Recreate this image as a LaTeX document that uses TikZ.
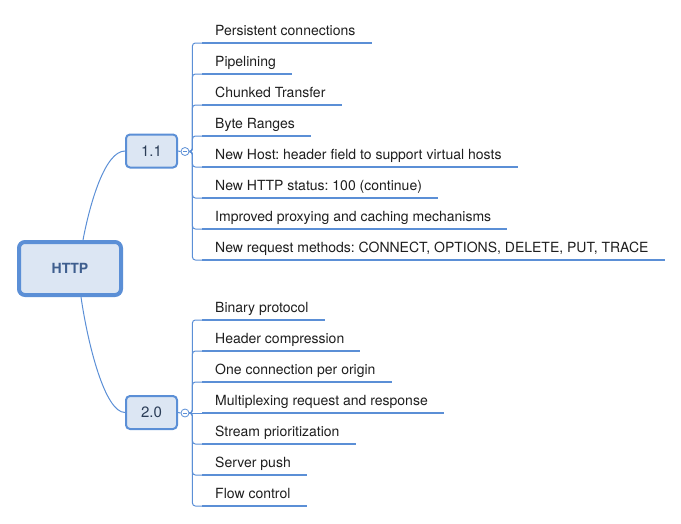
\documentclass[tikz,border=0pt]{standalone}
\usepackage{fontspec}
\setmainfont{TeX Gyre Heros}
\definecolor{mapblue}{HTML}{5B8FD6}
\definecolor{mapfill}{HTML}{DCE6F3}
\definecolor{maptext}{HTML}{2B3D57}
\definecolor{roottext}{HTML}{3E5E8E}
\definecolor{leaftext}{HTML}{1E1E1E}

\begin{document}
\frenchspacing
\begin{tikzpicture}[x=1pt, y=-1pt,
  root/.style={rectangle, draw=mapblue, line width=4pt, rounded corners=6pt, fill=mapfill, minimum width=102pt, minimum height=53pt, font=\bfseries\fontsize{14}{16}\selectfont, text=roottext},
  ver/.style={rectangle, draw=mapblue, line width=2pt, rounded corners=4pt, fill=mapfill, minimum width=51pt, minimum height=33pt, font=\fontsize{15}{17}\selectfont, text=maptext},
  toggle/.style={circle, draw=mapblue, line width=0.8pt, fill=white, minimum size=8pt, inner sep=0pt},
  leaf/.style={anchor=base west, inner sep=0pt, font=\fontsize{14}{16}\selectfont, text=leaftext},
  uline/.style={draw=mapblue, line width=2.8pt},
  branch/.style={draw=mapblue, line width=1pt, rounded corners=3pt}]

\useasboundingbox (0,0) rectangle (681,523);

\node[root] (http) at (70, 268.5) {HTTP};
\node[ver] (v1) at (151.5, 151) {1.1};
\node[ver] (v2) at (151.5, 412.5) {2.0};

\draw[branch] ([xshift=13pt]http.north) .. controls (90, 203) and (105, 151) .. (v1.west);
\draw[branch] ([xshift=11pt]http.south) .. controls (88, 345) and (105, 412.5) .. (v2.west);

\node[toggle] (t1) at (185, 151.5) {};
\draw[branch] (v1.east) -- (t1.west);
\draw[branch] ([xshift=-2pt]t1.center) -- ([xshift=2pt]t1.center);

\node[toggle] (t2) at (185, 413) {};
\draw[branch] (v2.east) -- (t2.west);
\draw[branch] ([xshift=-2pt]t2.center) -- ([xshift=2pt]t2.center);

% 1.1
\node[leaf] (a0) at (215, 35) {Persistent connections};
\draw[uline] ([shift={(-13pt,-8pt)}]a0.base west) coordinate (a0s) -- ([shift={(16pt,-8pt)}]a0.base east);
\draw[branch] (t1.east) -- ++(3, 0) |- (a0s);

\node[leaf] (a1) at (215, 66) {Pipelining};
\draw[uline] ([shift={(-13pt,-8pt)}]a1.base west) coordinate (a1s) -- ([shift={(16pt,-8pt)}]a1.base east);
\draw[branch] (t1.east) -- ++(3, 0) |- (a1s);

\node[leaf] (a2) at (215, 97) {Chunked Transfer};
\draw[uline] ([shift={(-13pt,-8pt)}]a2.base west) coordinate (a2s) -- ([shift={(16pt,-8pt)}]a2.base east);
\draw[branch] (t1.east) -- ++(3, 0) |- (a2s);

\node[leaf] (a3) at (215, 128) {Byte Ranges};
\draw[uline] ([shift={(-13pt,-8pt)}]a3.base west) coordinate (a3s) -- ([shift={(16pt,-8pt)}]a3.base east);
\draw[branch] (t1.east) -- ++(3, 0) |- (a3s);

\node[leaf] (a4) at (215, 159) {New Host: header field to support virtual hosts};
\draw[uline] ([shift={(-13pt,-8pt)}]a4.base west) coordinate (a4s) -- ([shift={(16pt,-8pt)}]a4.base east);
\draw[branch] (t1.east) -- ++(3, 0) |- (a4s);

\node[leaf] (a5) at (215, 190) {New HTTP status: 100 (continue)};
\draw[uline] ([shift={(-13pt,-8pt)}]a5.base west) coordinate (a5s) -- ([shift={(16pt,-8pt)}]a5.base east);
\draw[branch] (t1.east) -- ++(3, 0) |- (a5s);

\node[leaf] (a6) at (215, 221) {Improved proxying and caching mechanisms};
\draw[uline] ([shift={(-13pt,-8pt)}]a6.base west) coordinate (a6s) -- ([shift={(16pt,-8pt)}]a6.base east);
\draw[branch] (t1.east) -- ++(3, 0) |- (a6s);

\node[leaf] (a7) at (215, 252) {New request methods: CONNECT, OPTIONS, DELETE, PUT, TRACE};
\draw[uline] ([shift={(-13pt,-8pt)}]a7.base west) coordinate (a7s) -- ([shift={(16pt,-8pt)}]a7.base east);
\draw[branch] (t1.east) -- ++(3, 0) |- (a7s);

% 2.0
\node[leaf] (b0) at (215, 312) {Binary protocol};
\draw[uline] ([shift={(-13pt,-8pt)}]b0.base west) coordinate (b0s) -- ([shift={(16pt,-8pt)}]b0.base east);
\draw[branch] (t2.east) -- ++(3, 0) |- (b0s);

\node[leaf] (b1) at (215, 343) {Header compression};
\draw[uline] ([shift={(-13pt,-8pt)}]b1.base west) coordinate (b1s) -- ([shift={(16pt,-8pt)}]b1.base east);
\draw[branch] (t2.east) -- ++(3, 0) |- (b1s);

\node[leaf] (b2) at (215, 374) {One connection per origin};
\draw[uline] ([shift={(-13pt,-8pt)}]b2.base west) coordinate (b2s) -- ([shift={(16pt,-8pt)}]b2.base east);
\draw[branch] (t2.east) -- ++(3, 0) |- (b2s);

\node[leaf] (b3) at (215, 405) {Multiplexing request and response};
\draw[uline] ([shift={(-13pt,-8pt)}]b3.base west) coordinate (b3s) -- ([shift={(16pt,-8pt)}]b3.base east);
\draw[branch] (t2.east) -- (b3s);

\node[leaf] (b4) at (215, 436) {Stream prioritization};
\draw[uline] ([shift={(-13pt,-8pt)}]b4.base west) coordinate (b4s) -- ([shift={(16pt,-8pt)}]b4.base east);
\draw[branch] (t2.east) -- ++(3, 0) |- (b4s);

\node[leaf] (b5) at (215, 467) {Server push};
\draw[uline] ([shift={(-13pt,-8pt)}]b5.base west) coordinate (b5s) -- ([shift={(16pt,-8pt)}]b5.base east);
\draw[branch] (t2.east) -- ++(3, 0) |- (b5s);

\node[leaf] (b6) at (215, 498) {Flow control};
\draw[uline] ([shift={(-13pt,-8pt)}]b6.base west) coordinate (b6s) -- ([shift={(16pt,-8pt)}]b6.base east);
\draw[branch] (t2.east) -- ++(3, 0) |- (b6s);

\end{tikzpicture}
\end{document}
